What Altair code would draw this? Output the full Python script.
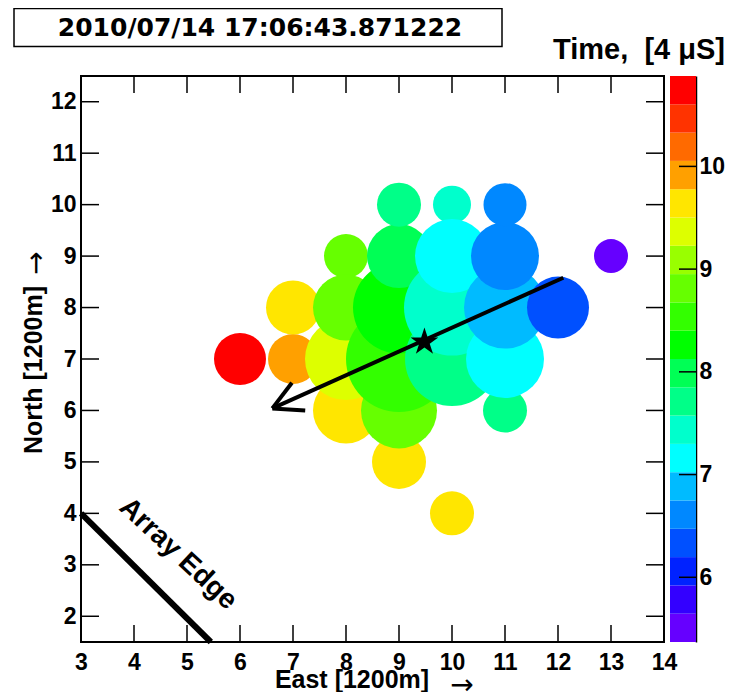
import altair as alt
import numpy as np
import pandas as pd

# ---------------- data ----------------
stamp = ["2010/07/14 17:06:43.871222"]

east = [6, 7, 7, 8, 9, 10, 8, 8, 8, 9, 9, 9, 9, 9, 10, 10, 10, 10, 11, 11, 11, 11, 11, 12, 13]
north = [7, 7, 8, 6, 5, 4, 7, 8, 9, 6, 7, 8, 9, 10, 10, 9, 8, 7, 6, 7, 8, 9, 10, 8, 9]
time_4us = [10.75, 9.9, 9.65, 9.6, 9.7, 9.6, 9.35, 8.8, 8.85, 8.75, 8.5, 8.3, 8.0, 7.75,
            7.4, 7.1, 7.5, 7.65, 7.8, 7.2, 6.85, 6.6, 6.55, 6.3, 5.5]
signal = [2.6, 2.5, 2.7, 3.3, 2.7, 2.2, 4.1, 3.3, 2.2, 3.8, 5.3, 4.6, 3.2, 2.2,
          1.9, 3.7, 4.8, 4.7, 2.2, 3.9, 4.1, 3.4, 2.15, 3.1, 1.7]

core_east = [9.48]
core_north = [7.33]

# shower-axis arrow: shaft + two arrowhead arms
arrow_x = [12.1, 6.61, 6.61]
arrow_y = [8.58, 6.04, 6.04]
arrow_x2 = [6.61, 6.98, 7.23]
arrow_y2 = [6.04, 6.54, 6.0]

edge_x = [3.0]
edge_y = [4.0]
edge_x2 = [5.45]
edge_y2 = [1.5]
edge_label = ["Array Edge"]
edge_label_x = [4.83]
edge_label_y = [3.21]

x_ticks = list(range(3, 15))
y_ticks = list(range(2, 13))
cbar_ticks = [6, 7, 8, 9, 10]
cbar_title = ["Time,\u00a0 [4 \u03bcS]"]
x_title = ["East [1200m]"]
y_title = ["North [1200m]"]
arrow_glyph = ["\u2192"]

palette = ["#6600ff", "#3300ff", "#0022ff", "#0050ff", "#0088ff", "#00bbff", "#00ffff",
           "#00ffcc", "#00ff88", "#00ff55", "#00ff00", "#33ff00", "#66ff00", "#99ff00",
           "#ddff00", "#ffe600", "#ffa000", "#ff6a00", "#ff3300", "#ff0000"]
cbar_min, cbar_max = 5.37, 10.88

# ---------------- layout ----------------
W, H = 583, 566
FONT = "Liberation Sans"

stations = pd.DataFrame({"east": east, "north": north, "time": time_4us, "signal": signal})
stations = stations.sort_values("time", ascending=False)

edges = np.linspace(cbar_min, cbar_max, len(palette) + 1)
cbar = pd.DataFrame({"lo": edges[:-1], "hi": edges[1:], "mid": (edges[:-1] + edges[1:]) / 2})

xs = alt.Scale(domain=[3, 14], nice=False, zero=False)
ys = alt.Scale(domain=[1.5, 12.5], nice=False, zero=False)
cs = alt.Scale(type="quantize", domain=[cbar_min, cbar_max], range=palette)

x_axis = alt.Axis(values=x_ticks, format="d", ticks=False, tickSize=0, domain=False, grid=False,
                  labelFont=FONT, labelFontSize=23, labelFontWeight="bold", labelColor="black",
                  labelPadding=9, labelFlush=False, title=None)
y_axis = alt.Axis(values=y_ticks, format="d", ticks=False, tickSize=0, domain=False, grid=False,
                  labelFont=FONT, labelFontSize=23, labelFontWeight="bold", labelColor="black",
                  labelPadding=5, labelFlush=False, title=None)

circles = alt.Chart(stations).mark_circle(opacity=1, strokeWidth=0).encode(
    x=alt.X("east:Q", scale=xs, axis=x_axis),
    y=alt.Y("north:Q", scale=ys, axis=y_axis),
    size=alt.Size("signal:Q", scale=alt.Scale(type="pow", exponent=2, domain=[0, 6],
                                               range=[0, 14400]), legend=None),
    color=alt.Color("time:Q", scale=cs, legend=None),
    order=alt.Order("time:Q", sort="descending"),
)

edge_df = pd.DataFrame({"x": edge_x, "y": edge_y, "x2": edge_x2, "y2": edge_y2})
edge_line = alt.Chart(edge_df).mark_rule(color="black", strokeWidth=6).encode(
    x=alt.X("x:Q", scale=xs), y=alt.Y("y:Q", scale=ys), x2="x2:Q", y2="y2:Q")

edge_txt_df = pd.DataFrame({"x": edge_label_x, "y": edge_label_y, "t": edge_label})
edge_text = alt.Chart(edge_txt_df).mark_text(
    angle=43, font=FONT, fontSize=28, fontWeight="bold", color="black",
    align="center", baseline="middle").encode(
    x=alt.X("x:Q", scale=xs), y=alt.Y("y:Q", scale=ys), text="t:N")

arrow_df = pd.DataFrame({"x": arrow_x, "y": arrow_y, "x2": arrow_x2, "y2": arrow_y2})
arrow = alt.Chart(arrow_df).mark_rule(color="black", strokeWidth=4).encode(
    x=alt.X("x:Q", scale=xs), y=alt.Y("y:Q", scale=ys), x2="x2:Q", y2="y2:Q")

star_path = ("M0,-1L0.225,-0.309L0.951,-0.309L0.363,0.118L0.588,0.809L0,0.382"
             "L-0.588,0.809L-0.363,0.118L-0.951,-0.309L-0.225,-0.309Z")
core_df = pd.DataFrame({"x": core_east, "y": core_north})
core = alt.Chart(core_df).mark_point(shape=star_path, filled=True, color="black",
                                     size=850, opacity=1, strokeWidth=0).encode(
    x=alt.X("x:Q", scale=xs), y=alt.Y("y:Q", scale=ys))

xt_df = pd.DataFrame({"v": x_ticks})
yt_df = pd.DataFrame({"v": y_ticks})
tick_b = alt.Chart(xt_df).mark_rule(color="black", strokeWidth=1.5).encode(
    x=alt.X("v:Q", scale=xs), y=alt.value(H), y2=alt.value(H - 17))
tick_t = alt.Chart(xt_df).mark_rule(color="black", strokeWidth=1.5).encode(
    x=alt.X("v:Q", scale=xs), y=alt.value(0), y2=alt.value(17))
tick_l = alt.Chart(yt_df).mark_rule(color="black", strokeWidth=1.5).encode(
    y=alt.Y("v:Q", scale=ys), x=alt.value(0), x2=alt.value(18))
tick_r = alt.Chart(yt_df).mark_rule(color="black", strokeWidth=1.5).encode(
    y=alt.Y("v:Q", scale=ys), x=alt.value(W), x2=alt.value(W - 18))

# axis titles (text + symbol arrow)
xt_txt = alt.Chart(pd.DataFrame({"t": x_title})).mark_text(
    font=FONT, fontSize=25, fontWeight="bold", color="black",
    align="center", baseline="alphabetic").encode(
    x=alt.value(271), y=alt.value(H + 46), text="t:N")
xt_arr = alt.Chart(pd.DataFrame({"t": arrow_glyph})).mark_text(
    font="DejaVu Sans", fontSize=28, color="black",
    align="center", baseline="alphabetic").encode(
    x=alt.value(381), y=alt.value(H + 52), text="t:N")
yt_txt = alt.Chart(pd.DataFrame({"t": y_title})).mark_text(
    font=FONT, fontSize=25, fontWeight="bold", color="black", angle=270,
    align="center", baseline="alphabetic").encode(
    x=alt.value(-39), y=alt.value(294), text="t:N")
yt_arr = alt.Chart(pd.DataFrame({"t": arrow_glyph})).mark_text(
    font="DejaVu Sans", fontSize=28, color="black", angle=270,
    align="center", baseline="alphabetic").encode(
    x=alt.value(-36), y=alt.value(187), text="t:N")

stamp_df = pd.DataFrame({"t": stamp})
stamp_box = alt.Chart(stamp_df).mark_rect(fill="white", stroke="black", strokeWidth=1.5).encode(
    x=alt.value(-67), x2=alt.value(421), y=alt.value(-67.5), y2=alt.value(-29.5))
stamp_text = alt.Chart(stamp_df).mark_text(
    font="DejaVu Sans", fontSize=25, fontWeight="bold", color="black",
    align="center", baseline="alphabetic").encode(
    x=alt.value(179), y=alt.value(-40), text="t:N")

ctitle_df = pd.DataFrame({"t": cbar_title})
cbar_text = alt.Chart(ctitle_df).mark_text(
    font=FONT, fontSize=29, fontWeight="bold", color="black",
    align="right", baseline="alphabetic").encode(
    x=alt.value(644), y=alt.value(-17), text="t:N")

main = alt.layer(circles, edge_line, edge_text, arrow, core,
                 tick_b, tick_t, tick_l, tick_r, xt_txt, xt_arr, yt_txt, yt_arr,
                 stamp_box, stamp_text, cbar_text)

cys = alt.Scale(domain=[cbar_min, cbar_max], nice=False, zero=False)
cbar_axis = alt.Axis(orient="right", values=cbar_ticks, format="d", offset=32, ticks=False,
                     tickSize=0, domain=True, domainColor="black", domainWidth=1.5, grid=False,
                     labelFont=FONT, labelFontSize=23, labelFontWeight="bold",
                     labelColor="black", labelPadding=3, labelFlush=False, title=None)
cbar_rects = alt.Chart(cbar).mark_rect(strokeWidth=0).encode(
    y=alt.Y("lo:Q", scale=cys, axis=cbar_axis), y2="hi:Q",
    x=alt.value(W + 6), x2=alt.value(W + 32),
    color=alt.Color("mid:Q", scale=cs, legend=None))
ct_df = pd.DataFrame({"v": cbar_ticks})
cbar_tk = alt.Chart(ct_df).mark_rule(color="black", strokeWidth=1.5).encode(
    y=alt.Y("v:Q", scale=cys), x=alt.value(W + 15), x2=alt.value(W + 32))
colorbar = alt.layer(cbar_rects, cbar_tk)

chart = alt.layer(main, colorbar).resolve_scale(y="independent").properties(
    width=W, height=H,
    autosize=alt.AutoSizeParams(type="none"),
    padding={"left": 73, "top": 68, "right": 62, "bottom": 50},
    background="white",
).configure_view(stroke="black", strokeWidth=2)

chart.save("out.html", embed_options={"renderer": "svg", "actions": False})
